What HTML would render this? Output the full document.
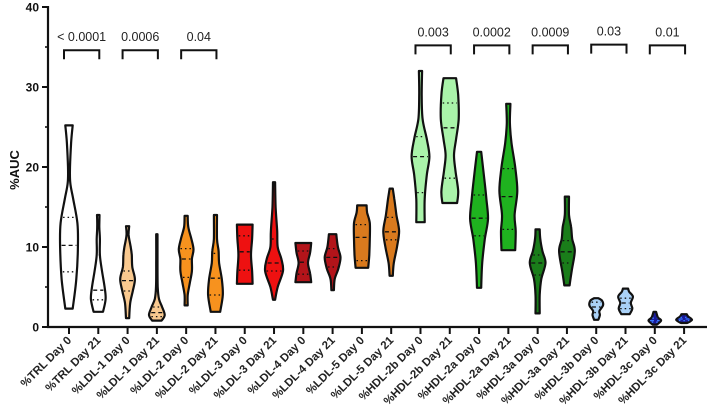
<!DOCTYPE html>
<html><head><meta charset="utf-8">
<style>
html,body{margin:0;padding:0;background:#fff;}
svg{display:block;font-family:"Liberation Sans",Arial,sans-serif;}
</style></head>
<body>
<svg id="chart" width="709" height="420" viewBox="0 0 709 420" xmlns="http://www.w3.org/2000/svg"></svg>
<script>
const categories = ["%TRL Day 0","%TRL Day 21","%LDL-1 Day 0","%LDL-1 Day 21","%LDL-2 Day 0","%LDL-2 Day 21","%LDL-3 Day 0","%LDL-3 Day 21","%LDL-4 Day 0","%LDL-4 Day 21","%LDL-5 Day 0","%LDL-5 Day 21","%HDL-2b Day 0","%HDL-2b Day 21","%HDL-2a Day 0","%HDL-2a Day 21","%HDL-3a Day 0","%HDL-3a Day 21","%HDL-3b Day 0","%HDL-3b Day 21","%HDL-3c Day 0","%HDL-3c Day 21"];
const colors = ["#ffffff","#ffffff","#f9c98f","#f9c98f","#f7921e","#f7921e","#ee1111","#ee1111","#b3141a","#b3141a","#d97a1e","#d97a1e","#aaf3aa","#aaf3aa","#1fb21f","#1fb21f","#1a7d1a","#1a7d1a","#a9d1f7","#a9d1f7","#1a1a9a","#1a1a9a"];
const medians = [10.2,4.6,5.8,1.8,8.5,6.1,9.4,8,8.1,8.7,11.2,11.9,21.3,24.9,13.6,16.3,8,9.4,2.5,3,0.8,1];
const q1s = [6.9,3.4,4.5,1.3,6.2,4,7.1,7,6.6,7.5,8.3,10.9,16.8,18.6,11.4,12.2,6.5,8,1.8,2.3,0.6,0.8];
const q3s = [13.7,9,7,2.5,9.8,9.2,11.4,11,9.5,9.8,12.8,13.7,23.8,28,16.5,19.8,9,10.8,3.1,3.6,1.1,1.2];
const profiles = [
 [[2.3,.35],[6,.7],[10,.85],[13,.8],[16,.4],[18,.12],[20,.1],[23,.2],[25.2,.35]],
 [[1.9,.45],[3.5,.7],[5,.6],[7,.35],[9,.15],[11,.15],[12.5,.1],[14,.12]],
 [[1.1,.15],[3,.25],[4.5,.5],[6,.7],[7.5,.45],[9,.4],[10,.3],[11.5,.1],[12.6,.15]],
 [[0.8,.45],[1.5,.75],[2.5,.5],[3.5,.2],[5,.08],[8,.06],[11.6,.06]],
 [[2.7,.15],[4,.15],[5.5,.35],[7,.55],[8.5,.55],[9.7,.7],[11,.5],[12.5,.2],[13.9,.15]],
 [[1.9,.45],[4,.7],[6,.6],[8,.35],[9.5,.3],[11,.15],[14,.15]],
 [[5.4,.75],[7,.7],[9,.6],[11,.7],[12.8,.75]],
 [[3.4,.1],[5,.35],[7,.85],[8.5,.7],[10,.35],[12,.3],[15,.15],[18.1,.1]],
 [[5.6,.75],[6.7,.65],[8,.45],[9.3,.65],[10.5,.75]],
 [[4.6,.12],[6,.2],[7.3,.55],[8.7,.75],[10,.5],[11.6,.35]],
 [[7.4,.6],[9,.7],[11,.75],[13,.75],[14.3,.5],[15.2,.45]],
 [[6.4,.15],[8,.25],[10,.55],[12,.75],[14,.5],[16,.3],[17.3,.15]],
 [[13.1,.4],[16,.4],[19,.6],[21.3,.85],[23.5,.6],[26,.2],[29,.12],[32,.15]],
 [[15.5,.7],[17,.8],[19.5,.55],[21.5,.4],[23.5,.6],[26,.85],[29,.8],[31.1,.6]],
 [[4.9,.2],[8,.3],[11,.55],[13.5,.85],[16,.7],[18.5,.5],[21.9,.2]],
 [[9.6,.65],[12,.7],[14,.6],[17,.85],[20,.65],[23,.3],[25.5,.15],[27.9,.2]],
 [[1.7,.2],[4,.2],[6,.35],[8,.75],[9.5,.45],[11,.25],[12.2,.2]],
 [[5.2,.25],[7,.45],[9.5,.75],[11,.5],[12.5,.4],[14,.2],[16.3,.2]],
 [[0.9,.2],[1.5,.35],[2,.3],[2.7,.65],[3.3,.55],[3.6,.2]],
 [[1.6,.4],[2.3,.65],[3,.5],[3.8,.7],[4.4,.35],[4.8,.25]],
 [[0.3,.2],[0.8,.6],[1.2,.3],[1.9,.12]],
 [[0.5,.3],[0.9,.75],[1.3,.4],[1.6,.25]]
];
const pLabels = ["< 0.0001","0.0006","0.04","0.003","0.0002","0.0009","0.03","0.01"];
const pPairs = [[0,1],[2,3],[4,5],[12,13],[14,15],[16,17],[18,19],[20,21]];
const pLevels = [34.6,34.6,34.6,35.2,35.2,35.2,35.3,35.2];
const yTicks = [0,10,20,30,40];
const yMinor = [5,15,25,35];

const NS="http://www.w3.org/2000/svg";
const svg=document.getElementById('chart');
const X0=69, STEP=29.29, Y0=327, YS=8, HW=10.5;
const xs=i=>X0+i*STEP;
const ys=v=>Y0-v*YS;
function mk(t,a,p){const e=document.createElementNS(NS,t);for(const k in a)e.setAttribute(k,a[k]);(p||svg).appendChild(e);return e;}

const axes=mk('g',{});


mk('line',{x1:48,y1:ys(40)-1,x2:48,y2:Y0+1,stroke:'#111','stroke-width':2.2},axes);
mk('line',{x1:47,y1:Y0,x2:707,y2:Y0,stroke:'#111','stroke-width':2.2},axes);
yTicks.forEach(v=>{
  mk('line',{x1:42,y1:ys(v),x2:48,y2:ys(v),stroke:'#111','stroke-width':2},axes);
  const t=mk('text',{x:39,y:ys(v)+4.5,'text-anchor':'end','font-size':12,'font-weight':'bold',fill:'#111'},axes);
  t.textContent=v;
  
  
});
yMinor.forEach(v=>mk('line',{x1:45,y1:ys(v),x2:48,y2:ys(v),stroke:'#111','stroke-width':1.6},axes));
const yt=mk('text',{x:0,y:0,transform:'translate(19,170) rotate(-90)','text-anchor':'middle','font-size':13,'font-weight':'bold',fill:'#111'});
yt.textContent='%AUC';



function hwAt(p,v){
  if(v<=p[0][0])return p[0][1];
  for(let i=1;i<p.length;i++){if(v<=p[i][0]){const a=p[i-1],b=p[i];const t=(v-a[0])/(b[0]-a[0]);return (a[1]+t*(b[1]-a[1]));}}
  return p[p.length-1][1];
}
function smoothSide(pts){
  let d='';
  for(let i=0;i<pts.length-1;i++){
    const p0=pts[Math.max(0,i-1)],p1=pts[i],p2=pts[i+1],p3=pts[Math.min(pts.length-1,i+2)];
    const c1=[p1[0]+(p2[0]-p0[0])/6,p1[1]+(p2[1]-p0[1])/6];
    const c2=[p2[0]-(p3[0]-p1[0])/6,p2[1]-(p3[1]-p1[1])/6];
    d+=` C${c1[0].toFixed(1)},${c1[1].toFixed(1)} ${c2[0].toFixed(1)},${c2[1].toFixed(1)} ${p2[0].toFixed(1)},${p2[1].toFixed(1)}`;
  }
  return d;
}
categories.forEach((c,i)=>{
  const cx=xs(i), p=profiles[i];
  const g=mk('g',{});
  
  
  const right=p.map(q=>[cx+q[1]*HW,ys(q[0])]);
  const left=p.slice().reverse().map(q=>[cx-q[1]*HW,ys(q[0])]);
  let d=`M${(cx-p[0][1]*HW).toFixed(1)},${ys(p[0][0])} L${right[0][0].toFixed(1)},${right[0][1]}`+smoothSide(right)+` L${left[0][0].toFixed(1)},${left[0][1]}`+smoothSide(left)+'Z';
  mk('path',{d,fill:colors[i],stroke:'#111','stroke-width':2.2,'stroke-linejoin':'round'},g);
  const lc=(i>=20)?'#3a7aff':'#111';
  [[medians[i],'4,3'],[q1s[i],'1.5,3'],[q3s[i],'1.5,3']].forEach(([v,da])=>{
    const w=hwAt(p,v)*HW-1.5;
    mk('line',{x1:cx-w,x2:cx+w,y1:ys(v),y2:ys(v),stroke:lc,'stroke-width':1.3,'stroke-dasharray':da},g);
  });
  mk('line',{x1:cx,y1:Y0,x2:cx,y2:Y0+7,stroke:'#111','stroke-width':2},axes);
  const t=mk('text',{x:0,y:0,transform:`translate(${cx+3},${Y0+14}) rotate(-45)`,'text-anchor':'end','font-size':11.5,fill:'#222','font-weight':'bold'});
  t.textContent=c;
  
  
});
pPairs.forEach((pr,k)=>{
  const x1=xs(pr[0])-5,x2=xs(pr[1])+1,y=ys(pLevels[k]);
  const g=mk('g',{});
  
  
  mk('path',{d:`M${x1},${y+9} V${y} H${x2} V${y+9}`,fill:'none',stroke:'#111','stroke-width':2},g);
  const t=mk('text',{x:(x1+x2)/2,y:y-9,'text-anchor':'middle','font-size':12.5,fill:'#222'},g);
  t.textContent=pLabels[k];
});
</script>
</body></html>
